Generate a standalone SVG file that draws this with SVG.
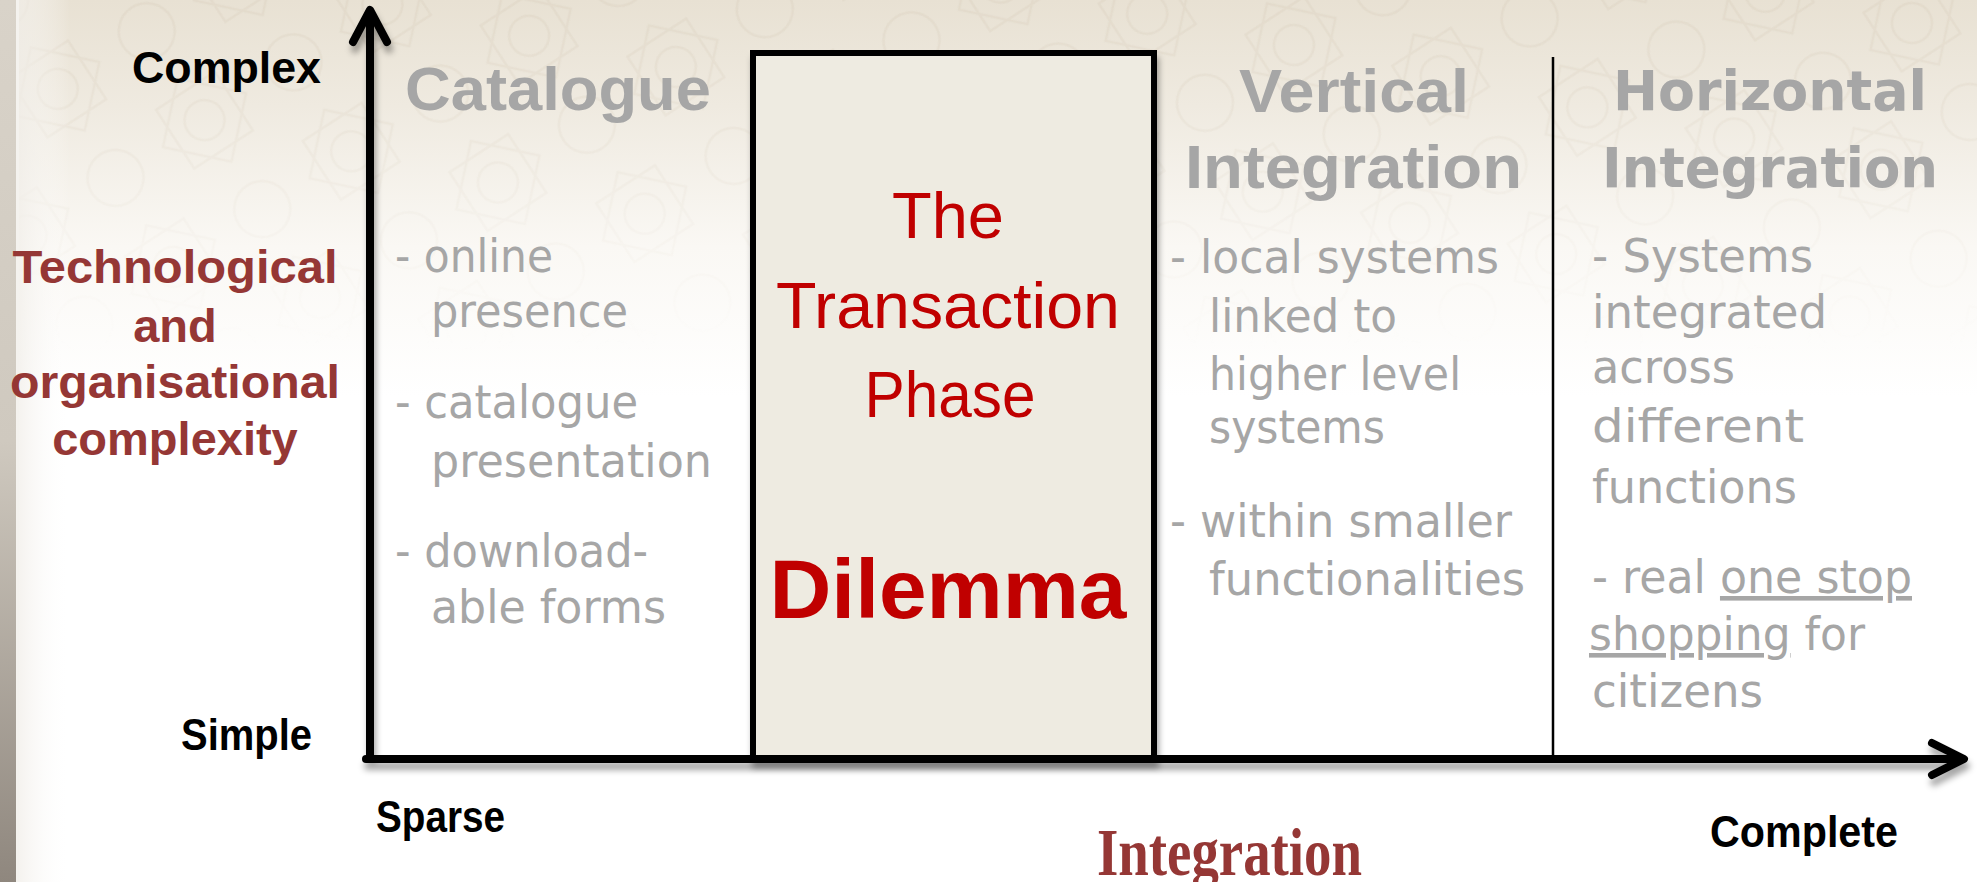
<svg xmlns="http://www.w3.org/2000/svg" width="1977" height="882" viewBox="0 0 1977 882">
<defs>
<style>
.axis{fill:none;stroke:#000;stroke-width:8;stroke-linecap:round;stroke-linejoin:round}
.hdr{font-family:"Liberation Sans",Arial,sans-serif;font-weight:bold;fill:#a6a6a6}
.hdr2{font-family:"DejaVu Sans",Verdana,sans-serif;font-weight:bold;fill:#a6a6a6}
.body{font-family:"DejaVu Sans",sans-serif;fill:#a6a6a6;font-size:46px}
.lbl{font-family:"Liberation Sans",Arial,sans-serif;font-weight:bold;font-size:45px;fill:#000}
.ylab{font-family:"Liberation Sans",Arial,sans-serif;font-weight:bold;font-size:47px;fill:#953735;text-anchor:middle}
.red{font-family:"Liberation Sans",Arial,sans-serif;fill:#c00000;text-anchor:middle}
</style>
<linearGradient id="bgv" x1="0" y1="0" x2="0" y2="1">
<stop offset="0" stop-color="#e8e1d3"/>
<stop offset="0.12" stop-color="#efeae0"/>
<stop offset="0.28" stop-color="#faf8f4"/>
<stop offset="0.45" stop-color="#ffffff"/>
</linearGradient>
<linearGradient id="strip" x1="0" y1="0" x2="0" y2="1">
<stop offset="0" stop-color="#d9d3c9"/>
<stop offset="0.5" stop-color="#cfc9bf"/>
<stop offset="1" stop-color="#8f877e"/>
</linearGradient>
<linearGradient id="fadeH" x1="0" y1="0" x2="1" y2="0">
<stop offset="0" stop-color="#ece8e1" stop-opacity="1"/>
<stop offset="1" stop-color="#ffffff" stop-opacity="0"/>
</linearGradient>
<linearGradient id="maskg" x1="0" y1="0" x2="0" y2="1">
<stop offset="0" stop-color="#fff" stop-opacity="1"/>
<stop offset="0.25" stop-color="#fff" stop-opacity="0.25"/>
<stop offset="0.4" stop-color="#fff" stop-opacity="0"/>
</linearGradient>
<mask id="topmask"><rect width="1977" height="882" fill="url(#maskg)"/></mask>
<pattern id="geo" width="150" height="150" patternUnits="userSpaceOnUse" patternTransform="rotate(12)">
<g fill="none" stroke="#d8cfbd" stroke-width="2.5" opacity="0.35">
<rect x="40" y="40" width="70" height="70"/>
<rect x="40" y="40" width="70" height="70" transform="rotate(45 75 75)"/>
<circle cx="75" cy="75" r="20"/>
<circle cx="0" cy="0" r="28"/><circle cx="150" cy="0" r="28"/><circle cx="0" cy="150" r="28"/><circle cx="150" cy="150" r="28"/>
</g>
</pattern>
<filter id="sh" x="-5%" y="-5%" width="110%" height="115%">
<feDropShadow dx="2" dy="7" stdDeviation="3" flood-color="#000" flood-opacity="0.35"/>
</filter>
</defs>

<!-- background -->
<rect width="1977" height="882" fill="url(#bgv)"/>
<rect width="1977" height="882" fill="url(#geo)" mask="url(#topmask)"/>
<rect x="0" y="0" width="70" height="882" fill="url(#fadeH)"/>
<rect x="0" y="0" width="16" height="882" fill="url(#strip)"/>
<rect x="16" y="0" width="3" height="882" fill="#f4f2ee"/>

<!-- transaction box -->
<g id="transaction">
<rect x="753" y="53" width="401" height="705" fill="#eeebe1" stroke="#000" stroke-width="6" filter="url(#sh)"/>
<text class="red" x="948" y="238" font-size="65">The</text>
<text class="red" x="948" y="328" font-size="65" textLength="344" lengthAdjust="spacingAndGlyphs">Transaction</text>
<text class="red" x="950" y="417" font-size="65" textLength="171" lengthAdjust="spacingAndGlyphs">Phase</text>
<text class="red" x="948" y="618" font-size="84" font-weight="bold" textLength="357" lengthAdjust="spacingAndGlyphs">Dilemma</text>
</g>

<!-- divider -->
<line x1="1553" y1="57" x2="1553" y2="758" stroke="#000" stroke-width="2.5"/>

<!-- connectors: axes -->
<g id="axes" filter="url(#sh)">
<line class="axis" x1="370" y1="14" x2="370" y2="759"/>
<polyline class="axis" points="353,42 370,10 387,42"/>
<line class="axis" x1="366" y1="759" x2="1960" y2="759"/>
<polyline class="axis" points="1932,743 1964,759 1932,775"/>
</g>

<!-- axis labels -->
<g id="axis-labels">
<text class="lbl" x="321" y="83" text-anchor="end" textLength="189" lengthAdjust="spacingAndGlyphs">Complex</text>
<text class="lbl" x="312" y="750" text-anchor="end" textLength="131" lengthAdjust="spacingAndGlyphs">Simple</text>
<text class="lbl" x="376" y="832" textLength="129" lengthAdjust="spacingAndGlyphs">Sparse</text>
<text class="lbl" x="1710" y="847" textLength="188" lengthAdjust="spacingAndGlyphs">Complete</text>
<text x="1097" y="875" font-family="'Liberation Serif','Times New Roman',serif" font-weight="bold" font-size="68" fill="#953735" textLength="265" lengthAdjust="spacingAndGlyphs">Integration</text>
</g>

<g id="y-title">
<text class="ylab" x="175" y="283" textLength="325" lengthAdjust="spacingAndGlyphs">Technological</text>
<text class="ylab" x="175" y="342">and</text>
<text class="ylab" x="175" y="398" textLength="330" lengthAdjust="spacingAndGlyphs">organisational</text>
<text class="ylab" x="175" y="455">complexity</text>
</g>

<!-- catalogue -->
<g id="catalogue">
<text class="hdr" x="405" y="110" font-size="62" textLength="306" lengthAdjust="spacingAndGlyphs">Catalogue</text>
<text class="body" x="395" y="272" textLength="158" lengthAdjust="spacingAndGlyphs">- online</text>
<text class="body" x="431" y="327" textLength="197" lengthAdjust="spacingAndGlyphs">presence</text>
<text class="body" x="395" y="418" textLength="243" lengthAdjust="spacingAndGlyphs">- catalogue</text>
<text class="body" x="431" y="477" textLength="281" lengthAdjust="spacingAndGlyphs">presentation</text>
<text class="body" x="395" y="567" textLength="253" lengthAdjust="spacingAndGlyphs">- download-</text>
<text class="body" x="431" y="623" textLength="235" lengthAdjust="spacingAndGlyphs">able forms</text>
</g>

<!-- vertical integration -->
<g id="vertical">
<text class="hdr" x="1239" y="112" font-size="62" textLength="230" lengthAdjust="spacingAndGlyphs">Vertical</text>
<text class="hdr" x="1185" y="188" font-size="62" textLength="337" lengthAdjust="spacingAndGlyphs">Integration</text>
<text class="body" x="1170" y="273" textLength="329" lengthAdjust="spacingAndGlyphs">- local systems</text>
<text class="body" x="1209" y="332" textLength="188" lengthAdjust="spacingAndGlyphs">linked to</text>
<text class="body" x="1209" y="390" textLength="252" lengthAdjust="spacingAndGlyphs">higher level</text>
<text class="body" x="1209" y="443" textLength="176" lengthAdjust="spacingAndGlyphs">systems</text>
<text class="body" x="1170" y="537" textLength="342" lengthAdjust="spacingAndGlyphs">- within smaller</text>
<text class="body" x="1209" y="595" textLength="316" lengthAdjust="spacingAndGlyphs">functionalities</text>
</g>

<!-- horizontal integration -->
<g id="horizontal">
<text class="hdr2" x="1613" y="110" font-size="56" textLength="314" lengthAdjust="spacingAndGlyphs">Horizontal</text>
<text class="hdr2" x="1602" y="187" font-size="56" textLength="336" lengthAdjust="spacingAndGlyphs">Integration</text>
<text class="body" x="1592" y="272" textLength="221" lengthAdjust="spacingAndGlyphs">- Systems</text>
<text class="body" x="1592" y="328" textLength="235" lengthAdjust="spacingAndGlyphs">integrated</text>
<text class="body" x="1592" y="383" textLength="143" lengthAdjust="spacingAndGlyphs">across</text>
<text class="body" x="1592" y="442" textLength="212" lengthAdjust="spacingAndGlyphs">different</text>
<text class="body" x="1592" y="503" textLength="205" lengthAdjust="spacingAndGlyphs">functions</text>
<text class="body" x="1592" y="593" textLength="320" lengthAdjust="spacingAndGlyphs">- real <tspan text-decoration="underline">one stop</tspan></text>
<text class="body" x="1589" y="650" textLength="276" lengthAdjust="spacingAndGlyphs"><tspan text-decoration="underline">shopping</tspan> for</text>
<text class="body" x="1592" y="707" textLength="171" lengthAdjust="spacingAndGlyphs">citizens</text>
</g>
</svg>
